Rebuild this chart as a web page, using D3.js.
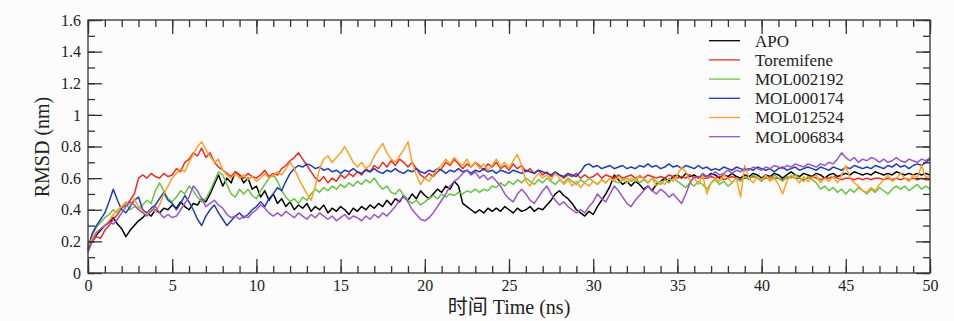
<!DOCTYPE html>
<html><head><meta charset="utf-8">
<script src="https://cdn.jsdelivr.net/npm/d3@7"></script>
<style>body{margin:0;background:#fcfcfc;}svg{display:block;}
.serif{font-family:"Liberation Serif","DejaVu Serif","Noto Serif",serif;}
</style>
</head><body>
<svg id="c" width="954" height="321"></svg>
<script>
const seriesNames = ["APO","Toremifene","MOL002192","MOL000174","MOL012524","MOL006834"];
const seriesColors = ["#000000","#ee2a24","#66c444","#1c3cb8","#ffa024","#9a55c8"];
const timeStep = 0.25;
const xTicks = [0,5,10,15,20,25,30,35,40,45,50];
const yTicks = [0,0.2,0.4,0.6,0.8,1,1.2,1.4,1.6];

const APO = [0.15,0.2,0.24,0.27,0.3, 0.32,0.35,0.31,0.28, 0.23,0.27,0.3,0.33, 0.35,0.38,0.36,0.4, 0.38,0.41,0.4,0.43,
 0.41,0.45,0.42,0.4, 0.44,0.43,0.47,0.45, 0.5,0.56,0.62,0.55, 0.6,0.57,0.64,0.62, 0.57,0.6,0.53,0.55,
 0.48,0.52,0.46,0.5, 0.44,0.47,0.42,0.45, 0.4,0.43,0.41,0.44, 0.39,0.42,0.4,0.43, 0.38,0.41,0.39,0.42,
 0.4,0.37,0.41,0.39, 0.42,0.4,0.43,0.41, 0.44,0.42,0.46,0.43, 0.47,0.45,0.49,0.46, 0.5,0.47,0.52,0.49,
 0.47,0.5,0.53,0.51, 0.55,0.53,0.58,0.55, 0.44,0.42,0.4,0.38, 0.4,0.38,0.41,0.39, 0.41,0.39,0.42,0.4,
 0.38,0.41,0.39,0.4, 0.42,0.39,0.41,0.4, 0.43,0.46,0.5,0.52, 0.49,0.47,0.44,0.4, 0.38,0.36,0.39,0.37,
 0.42,0.46,0.5,0.55, 0.62,0.59,0.56,0.58, 0.55,0.58,0.56,0.53, 0.55,0.52,0.56,0.58, 0.6,0.58,0.61,0.62,
 0.6,0.63,0.61,0.62, 0.6,0.62,0.61,0.63, 0.62,0.6,0.62,0.61, 0.63,0.61,0.6,0.62, 0.61,0.63,0.62,0.6,
 0.62,0.61,0.63,0.62, 0.6,0.62,0.64,0.62, 0.61,0.63,0.62,0.61, 0.63,0.62,0.6,0.62, 0.63,0.61,0.62,0.63,
 0.62,0.64,0.63,0.62, 0.63,0.62,0.64,0.63, 0.62,0.63,0.62,0.64, 0.63,0.62,0.63,0.62, 0.63,0.62,0.63,0.62];
const Toremifene = [0.17,0.2,0.23,0.22,0.27, 0.3,0.34,0.37,0.41, 0.43,0.46,0.5,0.6, 0.62,0.6,0.63,0.61, 0.6,0.63,0.61,0.62,
 0.66,0.64,0.7,0.72, 0.76,0.74,0.79,0.73, 0.76,0.7,0.67,0.65, 0.63,0.61,0.64,0.62, 0.6,0.63,0.61,0.6,
 0.62,0.65,0.61,0.63, 0.62,0.66,0.68,0.71, 0.73,0.76,0.72,0.68, 0.64,0.6,0.58,0.61, 0.57,0.6,0.58,0.62,
 0.6,0.63,0.61,0.64, 0.62,0.66,0.64,0.68, 0.66,0.7,0.67,0.71, 0.68,0.72,0.7,0.67, 0.7,0.66,0.62,0.6,
 0.63,0.61,0.64,0.66, 0.7,0.68,0.72,0.69, 0.66,0.69,0.67,0.7, 0.68,0.65,0.69,0.67, 0.7,0.66,0.68,0.65,
 0.69,0.66,0.68,0.64, 0.66,0.63,0.65,0.62, 0.64,0.61,0.63,0.62, 0.6,0.62,0.61,0.63, 0.6,0.62,0.6,0.61,
 0.63,0.6,0.62,0.61, 0.6,0.62,0.6,0.61, 0.62,0.6,0.61,0.6, 0.62,0.61,0.6,0.61, 0.6,0.62,0.61,0.6,
 0.61,0.6,0.62,0.6, 0.61,0.6,0.6,0.61, 0.6,0.61,0.59,0.6, 0.61,0.6,0.59,0.6, 0.6,0.61,0.6,0.59,
 0.6,0.61,0.6,0.6, 0.59,0.6,0.61,0.6, 0.6,0.59,0.6,0.61, 0.6,0.59,0.6,0.6, 0.61,0.6,0.59,0.6,
 0.6,0.59,0.6,0.59, 0.6,0.59,0.6,0.6, 0.59,0.6,0.59,0.6, 0.59,0.6,0.59,0.6, 0.59,0.6,0.59,0.59];
const MOL002192 = [0.18,0.24,0.29,0.32,0.35, 0.37,0.4,0.38,0.42, 0.44,0.4,0.42,0.41, 0.43,0.46,0.44,0.52, 0.57,0.52,0.47,0.45,
 0.48,0.52,0.5,0.55, 0.52,0.48,0.45,0.47, 0.52,0.58,0.64,0.62, 0.56,0.5,0.48,0.53, 0.5,0.53,0.49,0.47,
 0.52,0.56,0.6,0.62, 0.58,0.52,0.48,0.45, 0.47,0.44,0.48,0.46, 0.5,0.53,0.51,0.54, 0.52,0.55,0.53,0.56,
 0.54,0.57,0.55,0.58, 0.56,0.59,0.57,0.6, 0.56,0.53,0.55,0.51, 0.5,0.53,0.49,0.46, 0.44,0.46,0.43,0.45,
 0.47,0.49,0.47,0.5, 0.48,0.5,0.49,0.51, 0.5,0.52,0.51,0.53, 0.51,0.53,0.52,0.55, 0.54,0.57,0.55,0.58,
 0.56,0.59,0.57,0.6, 0.58,0.56,0.59,0.57, 0.6,0.58,0.56,0.59, 0.57,0.6,0.58,0.56, 0.59,0.57,0.6,0.58,
 0.56,0.59,0.57,0.6, 0.58,0.57,0.59,0.6, 0.58,0.6,0.57,0.59, 0.57,0.6,0.58,0.56, 0.59,0.57,0.6,0.58,
 0.56,0.54,0.57,0.55, 0.58,0.56,0.53,0.57, 0.59,0.56,0.58,0.55, 0.57,0.6,0.58,0.61, 0.59,0.62,0.6,0.58,
 0.61,0.59,0.62,0.6, 0.58,0.61,0.6,0.62, 0.6,0.58,0.61,0.59, 0.57,0.53,0.55,0.52, 0.54,0.51,0.53,0.5,
 0.53,0.51,0.54,0.52, 0.5,0.53,0.51,0.54, 0.52,0.5,0.53,0.55, 0.53,0.55,0.52,0.54, 0.56,0.53,0.55,0.53];
const MOL000174 = [0.15,0.25,0.3,0.34,0.38, 0.45,0.53,0.46,0.4, 0.38,0.42,0.46,0.48, 0.4,0.38,0.41,0.43, 0.47,0.51,0.46,0.44,
 0.4,0.44,0.49,0.45, 0.4,0.34,0.3,0.36, 0.4,0.43,0.38,0.34, 0.3,0.33,0.36,0.38, 0.35,0.37,0.4,0.42,
 0.45,0.42,0.47,0.5, 0.54,0.52,0.58,0.63, 0.66,0.68,0.67,0.69, 0.68,0.66,0.67,0.65, 0.66,0.64,0.65,0.63,
 0.65,0.64,0.66,0.64, 0.63,0.65,0.64,0.66, 0.64,0.63,0.65,0.64, 0.66,0.64,0.63,0.65, 0.64,0.66,0.64,0.63,
 0.65,0.64,0.66,0.65, 0.63,0.65,0.64,0.66, 0.64,0.65,0.63,0.65, 0.64,0.66,0.64,0.65, 0.63,0.65,0.64,0.63,
 0.65,0.64,0.63,0.65, 0.64,0.63,0.65,0.64, 0.63,0.62,0.64,0.62, 0.61,0.63,0.62,0.61, 0.64,0.68,0.69,0.67,
 0.68,0.66,0.67,0.68, 0.66,0.67,0.68,0.66, 0.67,0.66,0.68,0.67, 0.69,0.67,0.68,0.66, 0.67,0.69,0.67,0.68,
 0.66,0.68,0.67,0.66, 0.68,0.66,0.67,0.65, 0.66,0.65,0.67,0.66, 0.65,0.67,0.66,0.65, 0.66,0.65,0.67,0.66,
 0.65,0.66,0.64,0.66, 0.67,0.65,0.66,0.67, 0.65,0.66,0.67,0.66, 0.65,0.67,0.66,0.65, 0.67,0.66,0.65,0.67,
 0.66,0.68,0.67,0.66, 0.67,0.66,0.68,0.67, 0.66,0.68,0.67,0.69, 0.67,0.68,0.66,0.68, 0.69,0.68,0.7,0.72];
const MOL012524 = [0.17,0.22,0.26,0.28,0.3, 0.33,0.37,0.4,0.42, 0.45,0.43,0.47,0.42, 0.39,0.37,0.4,0.39, 0.43,0.5,0.55,0.6,
 0.63,0.66,0.64,0.7, 0.75,0.8,0.83,0.78, 0.74,0.7,0.72,0.65, 0.62,0.6,0.63,0.6, 0.62,0.59,0.61,0.58,
 0.6,0.63,0.6,0.62, 0.64,0.62,0.66,0.7, 0.66,0.6,0.55,0.5, 0.46,0.55,0.66,0.72, 0.74,0.7,0.73,0.76,
 0.8,0.75,0.7,0.67, 0.7,0.66,0.68,0.74, 0.78,0.82,0.76,0.72, 0.7,0.74,0.78,0.83, 0.7,0.62,0.56,0.6,
 0.58,0.62,0.66,0.68, 0.72,0.69,0.73,0.7, 0.68,0.72,0.67,0.7, 0.66,0.69,0.65,0.68, 0.72,0.67,0.7,0.66,
 0.71,0.75,0.68,0.58, 0.55,0.6,0.63,0.6, 0.62,0.59,0.63,0.6, 0.56,0.59,0.55,0.58, 0.54,0.57,0.55,0.58,
 0.56,0.59,0.57,0.6, 0.58,0.61,0.59,0.57, 0.6,0.58,0.62,0.6, 0.57,0.6,0.55,0.58, 0.56,0.6,0.58,0.62,
 0.67,0.64,0.58,0.6, 0.56,0.62,0.5,0.57, 0.6,0.58,0.62,0.6, 0.57,0.6,0.48,0.68, 0.6,0.57,0.61,0.59,
 0.62,0.58,0.6,0.56, 0.5,0.58,0.62,0.6, 0.57,0.61,0.58,0.6, 0.62,0.57,0.6,0.58, 0.61,0.57,0.62,0.68,
 0.6,0.57,0.55,0.52, 0.51,0.54,0.52,0.56, 0.59,0.62,0.58,0.6, 0.63,0.6,0.58,0.62, 0.6,0.68,0.6,0.62];
const MOL006834 = [0.13,0.2,0.25,0.28,0.3, 0.32,0.31,0.34,0.38, 0.42,0.45,0.43,0.4, 0.38,0.36,0.39,0.42, 0.38,0.35,0.37,0.35,
 0.36,0.4,0.44,0.48, 0.55,0.52,0.47,0.42, 0.44,0.46,0.43,0.41, 0.37,0.35,0.36,0.34, 0.36,0.35,0.38,0.4,
 0.43,0.41,0.38,0.36, 0.38,0.36,0.39,0.37, 0.35,0.38,0.36,0.34, 0.37,0.35,0.38,0.36, 0.34,0.36,0.33,0.35,
 0.37,0.34,0.36,0.35, 0.33,0.36,0.34,0.37, 0.35,0.38,0.36,0.39, 0.42,0.46,0.48,0.45, 0.4,0.37,0.34,0.33,
 0.35,0.38,0.42,0.46, 0.5,0.55,0.58,0.6, 0.63,0.65,0.62,0.64, 0.6,0.62,0.59,0.61, 0.58,0.55,0.5,0.47,
 0.45,0.5,0.53,0.5, 0.46,0.44,0.48,0.52, 0.55,0.5,0.46,0.43, 0.45,0.42,0.4,0.38, 0.4,0.38,0.42,0.45,
 0.5,0.47,0.45,0.5, 0.55,0.52,0.48,0.44, 0.42,0.46,0.49,0.52, 0.55,0.52,0.5,0.53, 0.51,0.48,0.5,0.47,
 0.44,0.5,0.57,0.61, 0.6,0.63,0.61,0.62, 0.64,0.62,0.63,0.65, 0.63,0.65,0.64,0.66, 0.65,0.67,0.66,0.65,
 0.67,0.66,0.68,0.67, 0.66,0.68,0.67,0.69, 0.68,0.67,0.69,0.68, 0.67,0.69,0.68,0.7, 0.69,0.72,0.76,0.73,
 0.71,0.73,0.7,0.72, 0.71,0.73,0.72,0.7, 0.72,0.7,0.71,0.73, 0.71,0.7,0.72,0.71, 0.7,0.72,0.71,0.73];
const seriesValues = [APO, Toremifene, MOL002192, MOL000174, MOL012524, MOL006834];

const svg = d3.select("#c");
const L = 88, R = 930, T = 20, B = 273;
const x = d3.scaleLinear().domain([0,50]).range([L,R]);
const y = d3.scaleLinear().domain([0,1.6]).range([B,T]);
const FONT = '"Liberation Serif","DejaVu Serif","Noto Serif",serif';

const plot = svg.append("g");
const line = d3.line().x((d,i)=>x(i*timeStep)).y(d=>y(d));
seriesValues.forEach((vals,k)=>{
  plot.append("path").attr("d", line(vals)).attr("fill","none")
    .attr("stroke", seriesColors[k]).attr("stroke-width",1.5).attr("stroke-linejoin","round");
});

svg.append("rect").attr("x",L).attr("y",T).attr("width",R-L).attr("height",B-T)
  .attr("fill","none").attr("stroke","#333").attr("stroke-width",1.3);

const tickStyle = g => { g.select(".domain").remove(); g.selectAll("line").attr("stroke","#333").attr("stroke-width",1.3); };
const xMinor = d3.range(0,51,1);
const yMinor = d3.range(0,17,1).map(d=>d/10);

svg.append("g").attr("transform",`translate(0,${B})`)
  .call(d3.axisBottom(x).tickValues(xMinor).tickSize(-7).tickFormat("")).call(tickStyle);
const xb = svg.append("g").attr("transform",`translate(0,${B})`)
  .call(d3.axisBottom(x).tickValues(xTicks).tickSize(-14).tickPadding(7).tickFormat(d3.format("d")))
  .call(tickStyle);
xb.selectAll("text").attr("class","serif").style("font-family",FONT).style("font-size","16px").attr("fill","#222");
svg.append("g").attr("transform",`translate(0,${T})`)
  .call(d3.axisTop(x).tickValues(xMinor).tickSize(-7).tickFormat("")).call(tickStyle);
svg.append("g").attr("transform",`translate(0,${T})`)
  .call(d3.axisTop(x).tickValues(xTicks).tickSize(-14).tickFormat("")).call(tickStyle);
svg.append("g").attr("transform",`translate(${L},0)`)
  .call(d3.axisLeft(y).tickValues(yMinor).tickSize(-7).tickFormat("")).call(tickStyle);
const yl = svg.append("g").attr("transform",`translate(${L},0)`)
  .call(d3.axisLeft(y).tickValues(yTicks).tickSize(-14).tickPadding(7).tickFormat(d=>String(+d.toFixed(1))))
  .call(tickStyle);
yl.selectAll("text").style("font-family",FONT).style("font-size","16px").attr("fill","#222");
svg.append("g").attr("transform",`translate(${R},0)`)
  .call(d3.axisRight(y).tickValues(yMinor).tickSize(-7).tickFormat("")).call(tickStyle);
svg.append("g").attr("transform",`translate(${R},0)`)
  .call(d3.axisRight(y).tickValues(yTicks).tickSize(-14).tickFormat("")).call(tickStyle);

svg.append("text").attr("x",(L+R)/2).attr("y",314).attr("text-anchor","middle")
  .style("font-family",'"Liberation Serif","Noto Sans CJK SC",serif').style("font-size","20px").attr("fill","#222").text("时间 Time (ns)");
svg.append("text").attr("transform",`translate(49,147) rotate(-90)`).attr("text-anchor","middle")
  .style("font-family",FONT).style("font-size","20px").attr("fill","#222").text("RMSD (nm)");

const lg = svg.append("g");
seriesNames.forEach((n,k)=>{
  const yy = 40.7 + k*19.2;
  lg.append("line").attr("x1",709).attr("x2",740).attr("y1",yy).attr("y2",yy)
    .attr("stroke",seriesColors[k]).attr("stroke-width",1.3);
  lg.append("text").attr("x",755).attr("y",yy).attr("dy","0.35em")
    .style("font-family",FONT).style("font-size","17px").attr("fill","#222").text(n);
});
</script>
</body></html>
